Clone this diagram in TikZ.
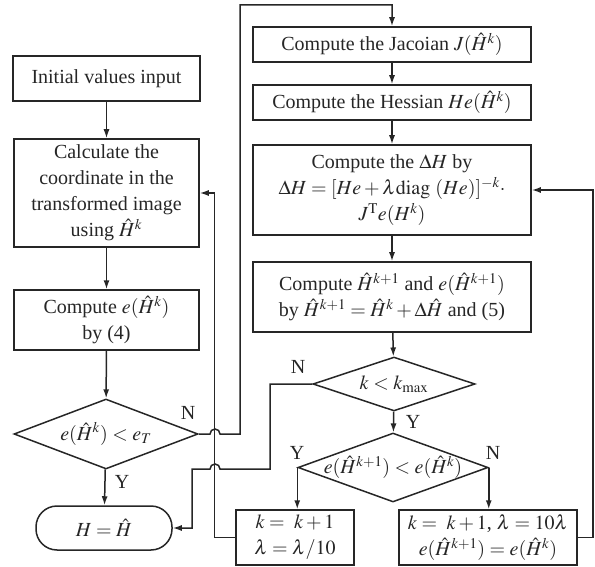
\documentclass[tikz,border=0pt]{standalone}
\usepackage{mathptmx}
\usepackage{fontspec}
\setmainfont{Liberation Serif}
\usetikzlibrary{shapes.geometric,arrows.meta}

\tikzset{
  proc/.style={draw, line width=1.5pt, inner sep=0pt, align=center},
  decision/.style={diamond, draw, line width=1.5pt, inner sep=0pt},
  arr/.style={-{Latex[length=9pt,width=6pt]}, line width=1.5pt},
  lab/.style={inner sep=0pt}
}

\begin{document}
\begin{tikzpicture}[x=1pt,y=-1pt,font=\fontsize{20}{26}\selectfont,color=black!85]
  \useasboundingbox (0,0) rectangle (595,567);

  % left column
  \node[proc, minimum width=187, minimum height=45] (init) at (106.5,78.5) {Initial values input};
  \node[proc, minimum width=185, minimum height=108] (calc) at (106.5,193)
    {Calculate the\\coordinate in the\\transformed image\\using $\hat{H}^k$};
  \node[proc, minimum width=185, minimum height=60] (err) at (106.5,320)
    {Compute $e(\hat{H}^k)$\\by (4)};
  \node[decision, minimum width=184, minimum height=70] (d1) at (106,434)
    {\makebox[0pt]{$e(\hat{H}^k)<e_T$}};
  \node[proc, rounded corners=21, minimum width=136, minimum height=44] (final) at (104,528)
    {$H = \hat{H}$};

  % right column
  \node[proc, minimum width=278, minimum height=35] (jac) at (392,44.5)
    {Compute the Jacoian $J(\hat{H}^k)$};
  \node[proc, minimum width=278, minimum height=35] (hes) at (392,102.5)
    {Compute the Hessian $He(\hat{H}^k)$};
  \node[proc, minimum width=278, minimum height=90] (dh) at (392,190)
    {Compute the $\Delta H$ by\\$\Delta H = [He+\lambda\mathrm{diag}\ (He)]^{-k}\cdot$\\$J^{\mathrm{T}}e(H^k)$};
  \node[proc, minimum width=278, minimum height=70] (upd) at (392,297)
    {Compute $\hat{H}^{k+1}$ and $e(\hat{H}^{k+1})$\\by $\hat{H}^{k+1} = \hat{H}^k+\Delta\hat{H}$ and (5)};
  \node[decision, minimum width=162, minimum height=54] (d2) at (394,384)
    {\makebox[0pt]{$k < k_{\max}$}};
  \node[decision, minimum width=190, minimum height=69] (d3) at (393,467.5)
    {\makebox[0pt]{\raisebox{4pt}{$e(\hat{H}^{k+1}) < e(\hat{H}^k)$}}};
  \node[proc, minimum width=118, minimum height=55] (kinc) at (295,537.5)
    {$k = \ k+1$\\$\lambda = \lambda/10$};
  \node[proc, minimum width=178, minimum height=55] (kten) at (488,537.5)
    {$k = \ k+1$, $\lambda = 10\lambda$\\$e(\hat{H}^{k+1}) = e(\hat{H}^k)$};

  % labels
  \node[lab] (n1) at (188,413) {N};
  \node[lab] (y1) at (122,482) {Y};
  \node[lab] (n2) at (298,367) {N};
  \node[lab] (y2) at (413,422) {Y};
  \node[lab] (y3) at (297,453) {Y};
  \node[lab] (n3) at (493,453) {N};

  % straight arrows
  \draw[arr] (init) -- (calc);
  \draw[arr] (calc) -- (err);
  \draw[arr] (err) -- (d1);
  \draw[arr] (d1) -- (final);
  \draw[arr] (jac) -- (hes);
  \draw[arr] (hes) -- (dh);
  \draw[arr] (dh) -- (upd);
  \draw[arr] (upd) -- (d2);
  \draw[arr] (d2) -- (d3);
  \draw[arr] (d3.west) -- (d3.west |- kinc.north);
  \draw[arr] (d3.east) -- (d3.east |- kten.north);

  % loops back
  \draw[arr] (kten.east) -- ++(15,0) |- (dh.east);
  \draw[arr] (kinc.west) -- ++(-21,0) |- (calc.east);
  \draw[arr] (d1.east) -- (210,434) arc[start angle=180, end angle=360, radius=5]
    -- (240,434) -- (240,5) -| (jac.north);
  \draw[arr] (d2.west) -| (270,469) -- (220,469) arc[start angle=0, end angle=-180, radius=5]
    -- (192,469) |- (final.east);
\end{tikzpicture}
\end{document}
